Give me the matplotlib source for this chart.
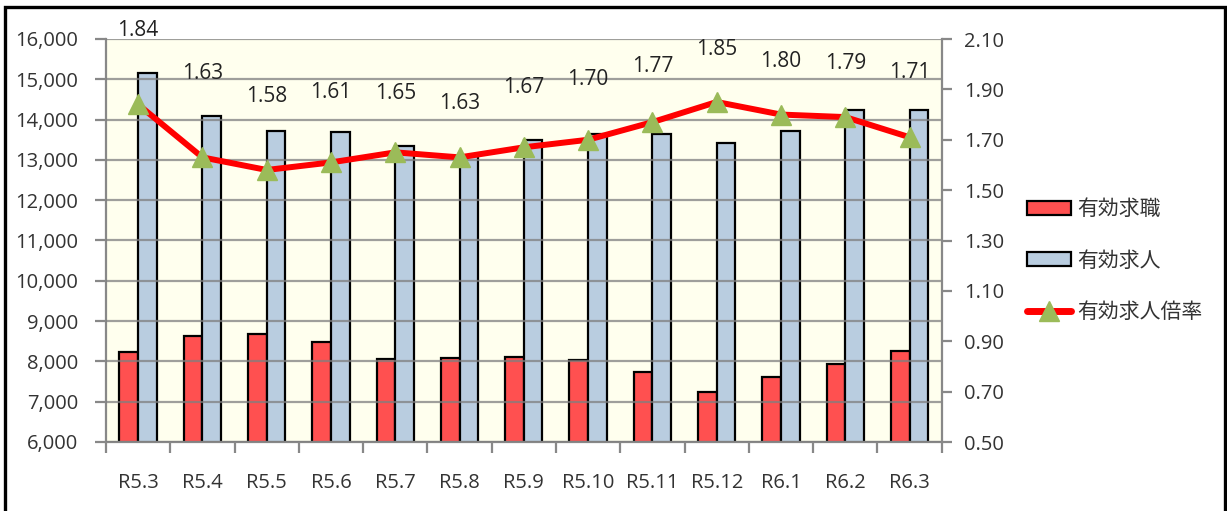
import numpy as np
import matplotlib
matplotlib.use("Agg")
import matplotlib.pyplot as plt
from matplotlib.patches import Rectangle
from matplotlib.lines import Line2D
from matplotlib.patches import Patch

plt.rcParams['font.family'] = ['Open Sans', 'Noto Sans CJK JP', 'DejaVu Sans']

months = ['R5.3', 'R5.4', 'R5.5', 'R5.6', 'R5.7', 'R5.8', 'R5.9',
          'R5.10', 'R5.11', 'R5.12', 'R6.1', 'R6.2', 'R6.3']
seekers = [8240, 8625, 8690, 8485, 8065, 8075, 8105, 8040, 7730, 7245, 7620, 7935, 8265]
openings = [15165, 14090, 13710, 13680, 13355, 13100, 13500, 13640, 13640, 13430, 13710, 14250, 14250]
ratio = [1.84, 1.63, 1.58, 1.61, 1.65, 1.63, 1.67, 1.70, 1.77, 1.85, 1.80, 1.79, 1.71]

# label lift above each point, in pixels (hand placed in the original)
label_dy = [74, 84, 73, 70, 59, 54, 60, 60, 56, 52, 53, 54, 65]

W, H = 1227, 511
fig = plt.figure(figsize=(W / 100, H / 100), dpi=100)
ax = fig.add_axes([106 / W, (H - 442) / H, (941.7 - 106) / W, (442 - 39) / H])
ax.set_facecolor('#FFFFEE')

x = np.arange(len(months))
bw = 0.29
ax.bar(x - bw / 2, seekers, bw, color='#FF5050', edgecolor='black', lw=1.6, zorder=2)
ax.bar(x + bw / 2, openings, bw, color='#B9CDE0', edgecolor='black', lw=1.6, zorder=2)

ax.set_ylim(6000, 16000)
ax.set_xlim(-0.5, len(months) - 0.5)
ax.set_yticks(np.arange(6000, 16001, 1000))
ax.set_yticklabels([f'{v:,}' for v in range(6000, 16001, 1000)])
ax.yaxis.grid(True, color='#7f7f7f', lw=1.6, alpha=0.75, zorder=3)
ax.set_axisbelow(False)

ax.set_xticks(x)
ax.set_xticklabels(months)
ax.set_xticks(np.arange(-0.5, len(months)), minor=True)
ax.tick_params(axis='x', which='major', length=0, pad=22, labelsize=14.5, colors='#333333')
ax.tick_params(axis='x', which='minor', length=8, width=1.6, color='#888888')
ax.tick_params(axis='y', length=8, width=1.6, color='#888888', pad=12,
               labelsize=14.5, labelcolor='#333333')
for s in ['left', 'bottom']:
    ax.spines[s].set_color('#888888')
    ax.spines[s].set_linewidth(1.6)
for s in ['top', 'right']:
    ax.spines[s].set_visible(False)

ax2 = ax.twinx()
ax2.set_ylim(0.5, 2.1)
ax2.set_yticks(np.arange(0.5, 2.11, 0.2))
ax2.set_yticklabels([f'{v:.2f}' for v in np.arange(0.5, 2.11, 0.2)])
ax2.tick_params(axis='y', length=7, width=1.6, color='#888888', pad=9,
                labelsize=14.5, labelcolor='#333333')
for s in ['left', 'top', 'bottom']:
    ax2.spines[s].set_visible(False)
ax2.spines['right'].set_color('#888888')
ax2.spines['right'].set_linewidth(1.6)

ax2.plot(x, ratio, color='#FF0000', lw=4.3, solid_joinstyle='round', zorder=4)
ax2.plot(x, ratio, ls='none', marker='^', ms=14, color='#9BBB59', mec='#9BBB59', zorder=5)
for xi, r, dy in zip(x, ratio, label_dy):
    ax2.annotate(f'{r:.2f}', (xi, r), xytext=(0, dy * 0.72), textcoords='offset points',
                 ha='center', va='center', fontsize=15, color='#222222')

handles = [Patch(facecolor='#FF5050', edgecolor='black', lw=1.6),
           Patch(facecolor='#B9CDE0', edgecolor='black', lw=1.6),
           Line2D([], [], color='#FF0000', lw=5, marker='^', ms=14,
                  mfc='#9BBB59', mec='#9BBB59', solid_capstyle='round')]
fig.legend(handles, ['有効求職', '有効求人', '有効求人倍率'],
           loc='center left', bbox_to_anchor=(1027 / W, (H - 261) / H),
           frameon=False, fontsize=15, handlelength=2.1, handleheight=0.67,
           handletextpad=0.3, labelspacing=1.45, borderpad=0, borderaxespad=0,
           labelcolor='#333333')

fig.patches.append(Rectangle((5 / W, -0.05), 1220 / W, (H - 7) / H + 0.05,
                             fill=False, lw=2.4, ec='black', transform=fig.transFigure))

fig.savefig('out.png', dpi=100)
